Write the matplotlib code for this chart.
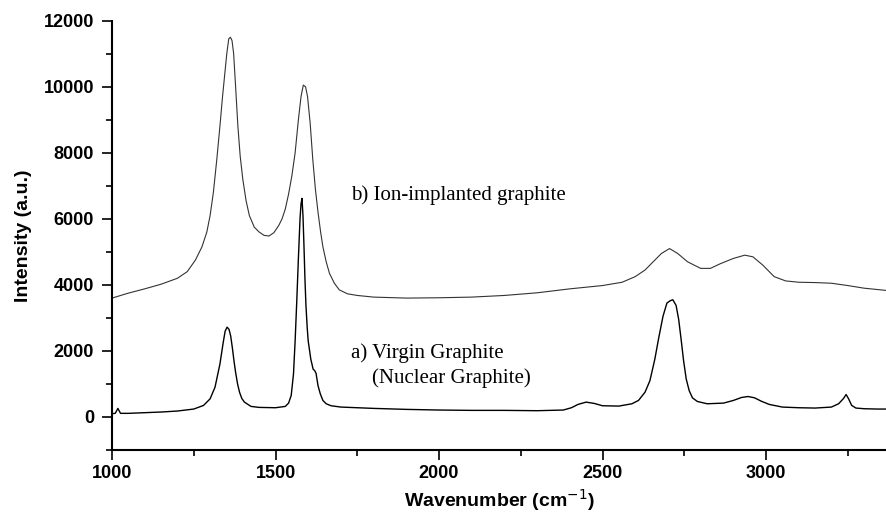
import numpy as np
import matplotlib.pyplot as plt
from matplotlib.ticker import MultipleLocator

# a) virgin graphite
wn_virgin = [1000, 1010, 1018, 1026, 1050, 1100, 1150, 1200, 1250, 1280,
             1300, 1315, 1330, 1340, 1346, 1352, 1358, 1363, 1368, 1373,
             1378, 1384, 1390, 1397, 1405, 1425, 1450, 1500, 1530, 1540,
             1548, 1555, 1560, 1565, 1570, 1575, 1578, 1581, 1584, 1587,
             1590, 1593, 1597, 1600, 1608, 1615, 1620, 1624, 1630, 1637,
             1645, 1655, 1670, 1700, 1800, 1900, 2000, 2100, 2200, 2300,
             2380, 2405, 2425, 2450, 2475, 2500, 2550, 2590, 2610, 2630,
             2645, 2660, 2672, 2685, 2697, 2707, 2715, 2725, 2733, 2741,
             2748, 2756, 2765, 2775, 2790, 2820, 2870, 2900, 2925, 2945,
             2965, 2985, 3010, 3050, 3100, 3150, 3200, 3222, 3237, 3245,
             3252, 3262, 3275, 3300, 3340, 3380]
int_virgin = [100, 110, 260, 110, 110, 130, 150, 180, 240, 350,
              550, 900, 1600, 2250, 2600, 2720, 2650, 2450, 2100, 1700,
              1350, 1000, 750, 560, 450, 320, 290, 280, 320, 420,
              650, 1300, 2300, 3500, 4800, 6000, 6450, 6620, 6100, 5200,
              4200, 3400, 2700, 2300, 1750, 1450, 1400, 1320, 950, 700,
              500, 400, 340, 300, 260, 230, 210, 200, 200, 190,
              210, 280, 380, 450, 410, 340, 330, 400, 500, 750,
              1100, 1750, 2400, 3050, 3450, 3520, 3550, 3380, 2950, 2300,
              1700, 1150, 800, 580, 470, 400, 420, 500, 590, 620,
              580, 480, 380, 300, 280, 270, 300, 400, 560, 680,
              560, 350, 270, 250, 240, 240]

# b) ion-implanted graphite
wn_ion = [1000, 1050, 1100, 1150, 1200, 1230, 1255, 1275, 1290, 1300,
          1310, 1320, 1330, 1338, 1345, 1351, 1357, 1362, 1367, 1372,
          1378, 1385, 1392, 1400, 1410, 1420, 1435, 1450, 1465, 1480,
          1495, 1510, 1520, 1530, 1540, 1550, 1560, 1570, 1578, 1585,
          1592, 1598, 1606, 1614, 1622, 1630, 1638, 1645, 1655, 1665,
          1680, 1695, 1720, 1750, 1800, 1900, 2000, 2100, 2200, 2300,
          2400, 2500, 2560, 2600, 2630, 2655, 2680, 2705, 2730, 2760,
          2800, 2830, 2860, 2900, 2935, 2960, 2990, 3025, 3060, 3100,
          3150, 3200, 3250, 3300, 3380]
int_ion = [3600, 3750, 3880, 4020, 4200, 4400, 4750, 5150, 5600, 6100,
           6800, 7750, 8800, 9700, 10400, 11000, 11450, 11500, 11400, 11000,
           10000, 8800, 7900, 7200, 6550, 6100, 5750, 5600, 5500, 5480,
           5580, 5800, 6000, 6300, 6750, 7300, 8000, 9000, 9700, 10050,
           10000, 9700, 8900, 7800, 6900, 6200, 5600, 5150, 4700, 4350,
           4050, 3850, 3730, 3680, 3630, 3600, 3610, 3630, 3680, 3760,
           3880, 3980, 4080, 4250, 4450, 4700, 4950, 5100, 4950, 4700,
           4500, 4500, 4640, 4800, 4900, 4850, 4600, 4250, 4120, 4080,
           4070, 4050, 3980, 3900, 3820]

fig = plt.figure(figsize=(8.87, 5.13), dpi=100)
ax = fig.add_axes([112 / 887, 1 - 450 / 513, 1 - 112 / 887, (450 - 20.7) / 513])

ax.plot(wn_ion, int_ion, color="#333333", lw=0.8)
ax.plot(wn_virgin, int_virgin, color="black", lw=1.0)

serif = ["Liberation Serif", "DejaVu Serif"]
ax.text(1732, 6717, "b) Ion-implanted graphite", fontsize=15, family=serif, va="center")
ax.text(1732, 1930, "a) Virgin Graphite", fontsize=15, family=serif, va="center")
ax.text(1795, 1172, "(Nuclear Graphite)", fontsize=15, family=serif, va="center")

ax.set_xlim(1000, 3370)
ax.set_ylim(-1000, 12000)
ax.xaxis.set_major_locator(MultipleLocator(500))
ax.xaxis.set_minor_locator(MultipleLocator(250))
ax.yaxis.set_major_locator(MultipleLocator(2000))
ax.yaxis.set_minor_locator(MultipleLocator(1000))
ax.set_yticks(range(0, 12001, 2000))

for s in ("top", "right"):
    ax.spines[s].set_visible(False)
for s in ("left", "bottom"):
    ax.spines[s].set_linewidth(1.5)

ax.tick_params(which="major", direction="out", length=7.5, width=1.2)
ax.tick_params(which="minor", direction="out", length=4.5, width=1.2)
ax.tick_params(axis="y", pad=5.5)
ax.tick_params(axis="x", pad=3)
for lab in ax.get_xticklabels() + ax.get_yticklabels():
    lab.set_fontfamily("Liberation Sans")
    lab.set_fontweight("bold")
    lab.set_fontsize(13)

ax.set_xlabel("Wavenumber (cm$^{-1}$)", fontsize=14, fontweight="bold",
              family="Liberation Sans", labelpad=4)
ax.set_ylabel("Intensity (a.u.)", fontsize=14, fontweight="bold",
              family="Liberation Sans", labelpad=8)

fig.savefig("out.png", dpi=100)
